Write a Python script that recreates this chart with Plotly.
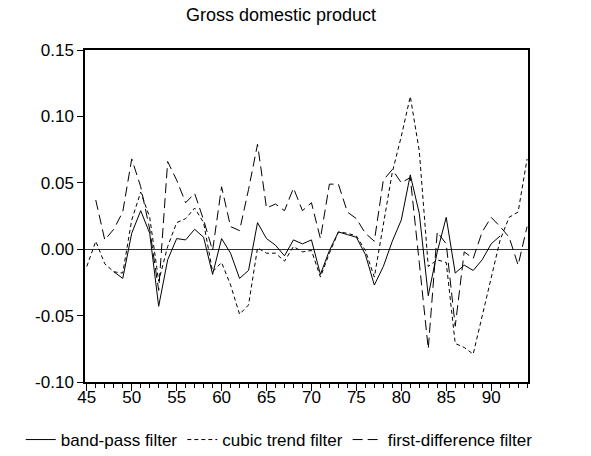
import plotly.graph_objects as go

years_cubic = list(range(45, 95))
cubic_trend = [-0.013, 0.006, -0.011, -0.017, -0.018, 0.022, 0.043, 0.024, -0.024, 0.002,
               0.020, 0.023, 0.031, 0.020, -0.017, -0.010, -0.027, -0.049, -0.042, 0.001,
               -0.003, -0.003, -0.009, 0.002, -0.002, -0.001, -0.021, -0.003, 0.013, 0.012,
               0.010, -0.001, -0.021, 0.018, 0.058, 0.085, 0.115, 0.074, -0.013, -0.008,
               -0.010, -0.071, -0.074, -0.079, -0.051, -0.023, 0.007, 0.024, 0.028, 0.068]

years_fd = list(range(46, 95))
first_diff = [0.037, 0.007, 0.015, 0.028, 0.068, 0.047, 0.015, -0.031, 0.066,
              0.052, 0.035, 0.042, 0.022, -0.001, 0.047, 0.017, 0.014, 0.045, 0.079,
              0.031, 0.034, 0.029, 0.046, 0.029, 0.035, 0.008, 0.049, 0.049, 0.028,
              0.023, 0.012, 0.006, 0.052, 0.060, 0.050, 0.054, -0.010, -0.075, 0.013,
              0.004, -0.058, -0.002, -0.007, 0.013, 0.024, 0.017, 0.009, -0.012, 0.017]

years_bp = list(range(48, 92))
band_pass = [-0.017, -0.022, 0.012, 0.029, 0.012, -0.043, -0.008,
             0.008, 0.007, 0.015, 0.009, -0.019, 0.008, -0.003, -0.022, -0.016, 0.020,
             0.008, 0.003, -0.005, 0.007, 0.004, 0.007, -0.019, -0.001, 0.013, 0.011,
             0.009, -0.004, -0.027, -0.013, 0.006, 0.022, 0.056, 0.027, -0.035, -0.002,
             0.024, -0.018, -0.012, -0.016, -0.008, 0.004, 0.010]

x_ticks = [45, 50, 55, 60, 65, 70, 75, 80, 85, 90]
y_ticks = [-0.10, -0.05, 0.00, 0.05, 0.10, 0.15]
y_tick_labels = ["-0.10", "-0.05", "0.00", "0.05", "0.10", "0.15"]

FONT = "Liberation Sans, Arial, sans-serif"

fig = go.Figure()
fig.add_trace(go.Scatter(x=years_bp, y=band_pass, mode="lines", name="band-pass filter",
                         line=dict(color="black", width=1)))
fig.add_trace(go.Scatter(x=years_cubic, y=cubic_trend, mode="lines", name="cubic trend filter",
                         line=dict(color="black", width=1, dash="4px,3px")))
fig.add_trace(go.Scatter(x=years_fd, y=first_diff, mode="lines", name="first-difference filter",
                         line=dict(color="black", width=1, dash="10px,5px")))

fig.update_layout(
    width=591, height=456,
    margin=dict(l=85, r=63, t=50, b=74, autoexpand=False),
    paper_bgcolor="white", plot_bgcolor="white",
    font=dict(family=FONT, size=17, color="black"),
    title=dict(text="Gross domestic product", x=0.4755, xref="container", xanchor="center",
               y=1 - 15 / 456, yref="container", yanchor="middle",
               font=dict(family=FONT, size=18, color="black")),
    showlegend=True,
    legend=dict(orientation="h", xref="paper", yref="paper",
                x=-0.145, xanchor="left", y=-0.1747, yanchor="middle",
                font=dict(family=FONT, size=17, color="black"),
                bgcolor="rgba(0,0,0,0)", tracegroupgap=0, borderwidth=0),
    xaxis=dict(range=[44.8, 94.1], tickvals=x_ticks, ticks="outside", ticklen=7,
               tickcolor="black", tickwidth=1, ticklabelstandoff=-8,
               minor=dict(dtick=1, tick0=45, ticks="outside", ticklen=4, tickcolor="black", tickwidth=1),
               showline=True, mirror=True, linecolor="black", linewidth=1.5,
               showgrid=False, zeroline=False, tickfont=dict(size=17)),
    yaxis=dict(range=[-0.10, 0.15], tickvals=y_ticks, ticktext=y_tick_labels,
               ticks="outside", ticklen=6, tickcolor="black", tickwidth=1,
               showline=True, mirror=True, linecolor="black", linewidth=1.5,
               showgrid=False, zeroline=True, zerolinecolor="#333333", zerolinewidth=1,
               tickfont=dict(size=17)),
)

fig.write_html("out.html", config={"displayModeBar": False},
               post_script="document.body.style.margin='0';")
